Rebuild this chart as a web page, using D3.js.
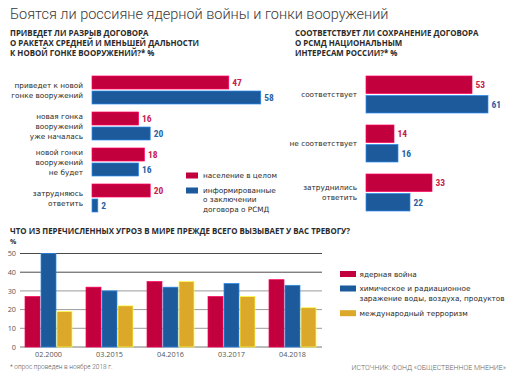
<!DOCTYPE html>
<html><head><meta charset="utf-8">
<script src="https://cdn.jsdelivr.net/npm/d3@7"></script>
<style>
html,body{margin:0;padding:0;background:#fff;}
svg{display:block;}
</style></head>
<body>
<script>
// ---------- DATA ----------
const title = "Боятся ли россияне ядерной войны и гонки вооружений";
const leftQuestion = ["ПРИВЕДЕТ ЛИ РАЗРЫВ ДОГОВОРА", "О РАКЕТАХ СРЕДНЕЙ И МЕНЬШЕЙ ДАЛЬНОСТИ", "К НОВОЙ ГОНКЕ ВООРУЖЕНИЙ?* %"];
const rightQuestion = ["СООТВЕТСТВУЕТ ЛИ СОХРАНЕНИЕ ДОГОВОРА", "О РСМД НАЦИОНАЛЬНЫМ", "ИНТЕРЕСАМ РОССИИ?* %"];
const leftCategories = [["приведет к новой","гонке вооружений"],["новая гонка","вооружений","уже началась"],["новой гонки","вооружений","не будет"],["затрудняюсь","ответить"]];
const leftPopulation = [47, 16, 18, 20];
const leftInformed = [58, 20, 16, 2];
const rightCategories = [["соответствует"],["не соответствует"],["затруднились","ответить"]];
const rightPopulation = [53, 14, 33];
const rightInformed = [61, 16, 22];
const groupLegend = [["население в целом"],["информированные","о заключении","договора о РСМД"]];

const bottomQuestion = "ЧТО ИЗ ПЕРЕЧИСЛЕННЫХ УГРОЗ В МИРЕ ПРЕЖДЕ ВСЕГО ВЫЗЫВАЕТ У ВАС ТРЕВОГУ?";
const dates = ["02.2000","03.2015","04.2016","03.2017","04.2018"];
const nuclearWar = [27, 32, 35, 27, 36];
const contamination = [50, 30, 32, 34, 33];
const terrorism = [19, 22, 35, 27, 21];
const threatLegend = [["ядерная война"],["химическое и радиационное","заражение воды, воздуха, продуктов"],["международный терроризм"]];
const yTicks = [0, 10, 20, 30, 40, 50];
const footnote = "* опрос проведен в ноябре 2018 г.";
const source = "ИСТОЧНИК: ФОНД «ОБЩЕСТВЕННОЕ МНЕНИЕ»";

// ---------- STYLE ----------
const RED = "#c2003d", BLUE = "#1d5a9b", GOLD = "#dca82a";
const labelFont = "'DejaVu Sans', Verdana, sans-serif";
const capsFont = "'Open Sans', sans-serif";
const capsSize = 7.9;
const numFont = "'Liberation Sans Narrow','Roboto Condensed','DejaVu Sans Condensed',sans-serif";

const svg = d3.select("body").append("svg").attr("width", 517).attr("height", 380);
svg.append("rect").attr("width",517).attr("height",380).attr("fill","#fff");

function multiline(g, lines, x, cy, lh, anchor, opts) {
  const t = g.append("text").attr("x", x).attr("text-anchor", anchor)
    .attr("font-family", opts.font).attr("font-size", opts.size).attr("fill", opts.fill)
    .attr("font-weight", opts.weight || 400);
  const y0 = cy - (lines.length - 1) * lh / 2 + opts.size * 0.35;
  lines.forEach((l, i) => t.append("tspan").attr("x", x).attr("y", y0 + i * lh).text(l));
  return t;
}

// Title
svg.append("text").attr("x", 10).attr("y", 19).attr("font-family", "Roboto, sans-serif")
  .attr("font-weight", 300).attr("font-size", 14.5).attr("fill", "#3a3a3a").text(title);

// Questions
function question(lines, x) {
  const t = svg.append("text").attr("font-family", capsFont).attr("font-weight", 700)
    .attr("font-size", capsSize).attr("fill", "#2a2a2a");
  lines.forEach((l, i) => t.append("tspan").attr("x", x).attr("y", 35.7 + i * 10).text(l));
}
question(leftQuestion, 10);
question(rightQuestion, 295);

// ---------- horizontal grouped bar charts ----------
function hbar(cfg) {
  const g = svg.append("g");
  const n = cfg.cats.length;
  const y = d3.scaleBand().domain(d3.range(n)).range(cfg.yRange)
    .paddingInner(cfg.padIn).paddingOuter(cfg.padOut);
  const inner = d3.scaleBand().domain(["pop","inf"]).range([0, y.bandwidth()]).paddingInner(cfg.gap);
  const x = d3.scaleLinear().domain([0, cfg.maxV]).range(cfg.xRange);
  const series = [{k:"pop", vals: cfg.pop, c: RED, tc: "#c8204f"}, {k:"inf", vals: cfg.inf, c: BLUE, tc: "#2a62a5"}];
  series.forEach(s => {
    g.selectAll(null).data(s.vals).enter().append("rect")
      .attr("x", x(0)).attr("y", (d, i) => y(i) + inner(s.k))
      .attr("width", d => x(d) - x(0)).attr("height", inner.bandwidth())
      .attr("fill", s.c).attr("stroke", d3.color(s.c).brighter(1.2)).attr("stroke-width", 0.7);
    g.selectAll(null).data(s.vals).enter().append("text")
      .attr("x", d => x(d) + 3.5).attr("y", (d, i) => y(i) + inner(s.k) + inner.bandwidth() / 2 + 3.3)
      .attr("font-family", numFont).attr("font-size", 9.5).attr("font-weight", 700)
      .attr("fill", s.tc).text(d => d);
  });
  cfg.cats.forEach((lines, i) => {
    multiline(g, lines, cfg.labelX, y(i) + y.bandwidth() / 2, 10, "end",
      {font: labelFont, size: 7.3, fill: "#2b2b2b"});
  });
}
hbar({cats: leftCategories, pop: leftPopulation, inf: leftInformed,
  yRange: [72, 216], padIn: 8/36, padOut: 4/36, gap: 2/15,
  maxV: 58, xRange: [92, 92 + 58 * 2.91], labelX: 83});
hbar({cats: rightCategories, pop: rightPopulation, inf: rightInformed,
  yRange: [70, 217], padIn: 12/49, padOut: 6/49, gap: 2/19.5,
  maxV: 61, xRange: [366, 366 + 61 * 2.0], labelX: 357});

// left legend
const lg = svg.append("g");
[[RED, 175.5], [BLUE, 190.5]].forEach((d, i) => {
  lg.append("rect").attr("x", 186).attr("y", d[1] - 3).attr("width", 12).attr("height", 6).attr("fill", d[0]);
  const lines = groupLegend[i];
  multiline(lg, lines, 203, d[1] + (lines.length - 1) * 9.3 / 2, 9.3, "start",
    {font: labelFont, size: 7.3, fill: "#2b2b2b"});
});

// ---------- bottom column chart ----------
svg.append("text").attr("x", 10).attr("y", 233.8).attr("font-family", capsFont).attr("font-weight", 700)
  .attr("font-size", capsSize).attr("fill", "#2a2a2a").text(bottomQuestion);
svg.append("text").attr("x", 10).attr("y", 243.5).attr("font-family", capsFont).attr("font-weight", 700)
  .attr("font-size", 7).attr("fill", "#2a2a2a").text("%");

const yB = d3.scaleLinear().domain([0, 50]).range([347, 253.5]);
const xB = d3.scaleBand().domain(dates).range([18, 323]).paddingInner(14/61).paddingOuter(7/61);
const threatSeries = [{k:"n", vals: nuclearWar, c: RED}, {k:"c", vals: contamination, c: BLUE}, {k:"t", vals: terrorism, c: GOLD}];
const xIn = d3.scaleBand().domain(threatSeries.map(s => s.k)).range([0, xB.bandwidth()]).paddingInner(1/16);

const bg = svg.append("g");
// gridlines
yTicks.forEach(t => {
  bg.append("line").attr("x1", 20).attr("x2", 322).attr("y1", yB(t)).attr("y2", yB(t))
    .attr("stroke", t >= 40 ? "#4a4a4a" : (t === 0 ? "#777" : "#9a9a9a")).attr("stroke-width", 1);
});
// y labels
const yAxis = d3.axisLeft(yB).tickValues(yTicks).tickSize(0).tickPadding(4);
const ya = bg.append("g").attr("transform", "translate(20,0)").call(yAxis);
ya.select(".domain").remove();
ya.selectAll("text").attr("font-family", "'Open Sans', sans-serif").attr("font-size", 7.3).attr("fill", "#555");

threatSeries.forEach(s => {
  bg.selectAll(null).data(s.vals).enter().append("rect")
    .attr("x", (d, i) => xB(dates[i]) + xIn(s.k)).attr("y", d => yB(d))
    .attr("width", xIn.bandwidth()).attr("height", d => yB(0) - yB(d))
    .attr("fill", s.c).attr("stroke", d3.color(s.c).brighter(1.2)).attr("stroke-width", 0.7);
});
// x labels
const xAxis = d3.axisBottom(xB).tickSize(0).tickPadding(5);
const xa = bg.append("g").attr("transform", "translate(0,347)").call(xAxis);
xa.select(".domain").remove();
xa.selectAll("text").attr("font-family", "'Open Sans', sans-serif").attr("font-size", 7.3).attr("fill", "#555");

// bottom legend
const tl = svg.append("g");
[[RED, 274], [BLUE, 288.5], [GOLD, 313.2]].forEach((d, i) => {
  tl.append("rect").attr("x", 340).attr("y", d[1] - 3).attr("width", 16).attr("height", 6).attr("fill", d[0]);
  const lines = threatLegend[i];
  multiline(tl, lines, 359.5, d[1] + (lines.length - 1) * 9.5 / 2, 9.5, "start",
    {font: labelFont, size: 7.3, fill: "#2b2b2b"});
});

// footnote & source
svg.append("text").attr("x", 10).attr("y", 369).attr("font-family", "Roboto, sans-serif").attr("font-weight", 300)
  .attr("font-size", 6.5).attr("fill", "#555").text(footnote);
svg.append("text").attr("x", 506).attr("y", 369.5).attr("text-anchor", "end").attr("font-family", "Roboto, sans-serif")
  .attr("font-weight", 300).attr("font-size", 7).attr("fill", "#666").text(source);
</script>
</body></html>
